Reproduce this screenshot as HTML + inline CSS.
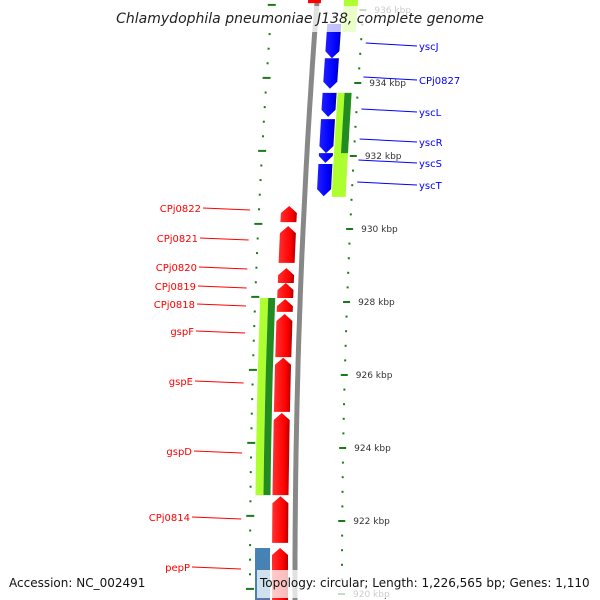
<!DOCTYPE html>
<html><head><meta charset="utf-8"><style>
html,body{margin:0;padding:0;background:#fff;}
svg{display:block;font-family:"DejaVu Sans","Liberation Sans",sans-serif;}
</style></head><body>
<svg id="map" width="600" height="600" viewBox="0 0 600 600" xmlns="http://www.w3.org/2000/svg">
<defs>
<linearGradient id="gRed" x1="0" x2="1" y1="0" y2="0"><stop offset="0" stop-color="#ff3030"/><stop offset="0.7" stop-color="#ff0000"/><stop offset="1" stop-color="#b00000"/></linearGradient>
<linearGradient id="gBlue" x1="0" x2="1" y1="0" y2="0"><stop offset="0" stop-color="#2020ff"/><stop offset="0.7" stop-color="#0000ff"/><stop offset="1" stop-color="#0000a8"/></linearGradient>
<linearGradient id="gGrey" x1="0" x2="1"><stop offset="0" stop-color="#aaa"/><stop offset="0.5" stop-color="#777"/><stop offset="1" stop-color="#999"/></linearGradient>
</defs>
<g id="layer"></g>
</svg>
<script>
// data (kbp)
const fwdNames = ["CPj0822","CPj0821","CPj0820","CPj0819","CPj0818","gspF","gspE","gspD","CPj0814","pepP"];
const fwdStart = [930.19,929.07,928.52,928.11,927.73,926.49,924.99,922.71,921.40,919.5];
const fwdEnd   = [930.63,930.08,928.93,928.52,928.08,927.67,926.47,924.96,922.68,921.26];
const fwdLabelY = [208,238,267,286,304,331,381,451,517,567];
const fwdLabelX = [201,198,197,196,195,194,193,192,190,190];
const revNames = ["yscJ","CPj0827","yscL","yscR","yscS","yscT"];
const revStart = [934.68,933.84,933.07,932.08,931.81,930.90];
const revEnd   = [935.62,934.68,933.73,933.01,932.08,931.78];
const revLabelY = [46,80,112,142,163,185];
const rightGreenStart = [935.4,930.88];
const rightGreenEnd = [936.3,933.73];
const leftGreenStart = [922.71];
const leftGreenEnd = [928.11];
const majorTicks = [920,922,924,926,928,930,932,934,936];

const svg = document.getElementById('map');
const L = document.getElementById('layer');
const NS = "http://www.w3.org/2000/svg";
function Y(k){return 229 + (930-k)*36.5;}
function X(y,dr){return 295 + dr + (y-580)*(y-580)/15200;}
function P(k,dr){const y=Y(k);return [X(y,dr),y];}
function el(tag,attrs){const e=document.createElementNS(NS,tag);for(const a in attrs)e.setAttribute(a,attrs[a]);L.appendChild(e);return e;}
function band(k1,k2,d1,d2){ // polygon between kbp k1<k2
  const pts=[];const n=8;
  for(let i=0;i<=n;i++){const k=k1+(k2-k1)*i/n;pts.push(P(k,d1));}
  for(let i=n;i>=0;i--){const k=k1+(k2-k1)*i/n;pts.push(P(k,d2));}
  return pts.map(p=>p[0].toFixed(1)+","+p[1].toFixed(1)).join(" ");
}
function arrow(k1,k2,d1,d2,up){
  const head=7/36.5, dm=(d1+d2)/2;
  let pts;
  if(up){const kb=Math.max(k1,k2-head);
    pts=[P(k1,d1),P(kb,d1),P(k2,dm),P(kb,d2),P(k1,d2)];}
  else{const kb=Math.min(k2,k1+head);
    pts=[P(k2,d1),P(kb,d1),P(k1,dm),P(kb,d2),P(k2,d2)];}
  return pts.map(p=>p[0].toFixed(1)+","+p[1].toFixed(1)).join(" ");
}
// backbone
{const pts=[];for(let y=-5;y<=605;y+=10)pts.push(X(y,0).toFixed(1)+","+y);
 const e=el('polyline',{points:pts.join(" "),fill:"none",stroke:"#888","stroke-width":5});
 }
// ticks
for(let k=919.6;k<=936.6;k+=0.4){
  const kk=Math.round(k*10)/10;const maj=Math.abs(kk/2-Math.round(kk/2))<0.01;
  const y=Y(kk);
  const t=el('line',{x1:X(y,maj?43:46),x2:X(y,maj?50:48),y1:y,y2:y,stroke:"#1a7a1a","stroke-width":2});
  
  const ky=Y(kk+0.14);
  const t2=el('line',{x1:X(ky,maj?-49:-46),x2:X(ky,maj?-41:-44),y1:ky,y2:ky,stroke:"#1a7a1a","stroke-width":2});
  
}
majorTicks.forEach(k=>{const y=Y(k);
  const t=el('text',{x:X(y,58),y:y+3,"font-size":9,fill:"#333"});t.textContent=k+" kbp";
  });
// green bars
rightGreenStart.forEach((s,i)=>{
  const a=el('polygon',{points:band(s,rightGreenEnd[i],27,41),fill:"#adff2f"});
  });
{const a=el('polygon',{points:band(932.08,933.73,34,41),fill:"#228b22"});
 }
leftGreenStart.forEach((s,i)=>{
  const a=el('polygon',{points:band(s,leftGreenEnd[i],-40,-32),fill:"#adff2f"});
  
  const b=el('polygon',{points:band(s,leftGreenEnd[i],-32,-25),fill:"#228b22"});
  });
{const a=el('polygon',{points:band(919.5,921.26,-40,-25),fill:"#4682b4"});
 
 const b=el('polygon',{points:band(919.3,919.84,-40,-25),fill:"#ff1493"});
 }
// forward genes
fwdNames.forEach((n,i)=>{
  const g=el('polygon',{points:arrow(fwdStart[i],fwdEnd[i],-23,-7,true),fill:"url(#gRed)"});
  
  const gy=Y(fwdEnd[i])+ (Y(fwdStart[i])-Y(fwdEnd[i]))*0.05;
  const ly=fwdLabelY[i];
  const ln=el('line',{x1:fwdLabelX[i]+2,y1:ly,x2:X(ly,-52)-2,y2:ly+2,stroke:"#ff0000","stroke-width":1});
  
  const t=el('text',{x:fwdLabelX[i],y:ly+4,"font-size":10,fill:"#ff0000","text-anchor":"end"});t.textContent=n;
  
});
{const g=el('polygon',{points:band(936.19,936.6,-9,4),fill:"#ff0000"});
 }
// reverse genes
revNames.forEach((n,i)=>{
  const g=el('polygon',{points:arrow(revStart[i],revEnd[i],12,26,false),fill:"url(#gBlue)"});
  
  const ly=revLabelY[i];
  const x1=X(ly,52);
  const ln=el('line',{x1:x1,y1:ly-3,x2:417,y2:ly,stroke:"#0000ff","stroke-width":1});
  
  const t=el('text',{x:419,y:ly+4,"font-size":10,fill:"#0000ff"});t.textContent=n;
  
});
// title & footer
function box(x,y,w,h,name){const r=el('rect',{x:x,y:y,width:w,height:h,fill:"#fff","fill-opacity":0.75});
  }
box(115,6,370,26,'title-background');
{const t=el('text',{x:300,y:23,"font-size":14,"font-style":"italic","text-anchor":"middle",fill:"#222"});
 t.textContent="Chlamydophila pneumoniae J138, complete genome";
 }
box(257,570,337,28,'footer-background');
{const t=el('text',{x:9,y:587,"font-size":12,fill:"#111"});t.textContent="Accession: NC_002491";
 
 const t2=el('text',{x:260,y:587,"font-size":12,fill:"#111"});t2.textContent="Topology: circular; Length: 1,226,565 bp; Genes: 1,110";
 }
</script>
</body></html>
